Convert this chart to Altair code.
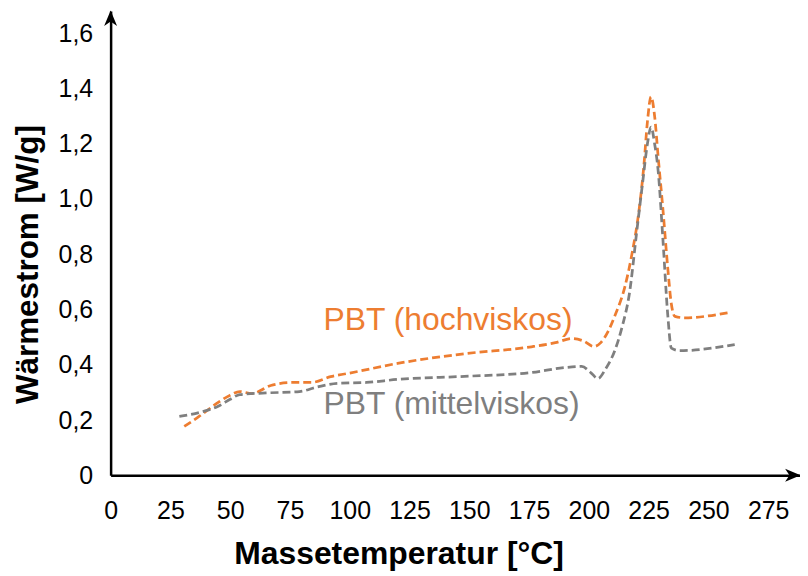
import altair as alt
import pandas as pd

# ---- data ----
hoch_x = [30.8, 37, 45, 50, 54, 59, 67, 76, 84, 92, 100, 120, 148, 176, 186, 193, 198, 202,
          205, 208, 211, 215, 218, 221, 223, 224.5, 226, 227.5, 229, 231, 233, 234.5, 236, 240, 258]
hoch_y = [0.177, 0.213, 0.264, 0.29, 0.303, 0.296, 0.325, 0.336, 0.336, 0.357, 0.37, 0.405, 0.44,
          0.465, 0.48, 0.495, 0.485, 0.466, 0.48, 0.52, 0.58, 0.68, 0.8, 0.96, 1.12, 1.28, 1.37,
          1.3, 1.15, 0.96, 0.75, 0.62, 0.575, 0.57, 0.588]

mittel_x = [28.75, 37, 45, 50, 54, 65, 79, 87, 95, 107, 120, 148, 176, 190, 197, 201, 203.75,
            207, 211, 214, 217, 220, 222.5, 224.5, 226, 227.5, 229, 231, 233, 234.5, 238, 261]
mittel_y = [0.213, 0.227, 0.25, 0.275, 0.292, 0.298, 0.303, 0.321, 0.333, 0.336, 0.347, 0.358,
            0.372, 0.39, 0.394, 0.37, 0.35, 0.385, 0.455, 0.54, 0.66, 0.88, 1.06, 1.2, 1.26,
            1.2, 1.1, 0.85, 0.58, 0.46, 0.451, 0.473]

series_names = ["PBT (hochviskos)", "PBT (mittelviskos)"]
series_colors = ["#ED7D31", "#7F7F7F"]
label_x = [89, 89]
label_y = [0.527, 0.222]

x_ticks = [0, 25, 50, 75, 100, 125, 150, 175, 200, 225, 250, 275]
y_ticks = [0, 0.2, 0.4, 0.6, 0.8, 1.0, 1.2, 1.4, 1.6]
x_max = 288.3
y_max = 1.68

FONT = "Liberation Sans"

df_h = pd.DataFrame({"x": hoch_x, "y": hoch_y, "s": series_names[0]})
df_m = pd.DataFrame({"x": mittel_x, "y": mittel_y, "s": series_names[1]})
df = pd.concat([df_h, df_m], ignore_index=True)

xs = alt.Scale(domain=[0, x_max], nice=False, zero=False)
ys = alt.Scale(domain=[0, y_max], nice=False, zero=False)
cs = alt.Scale(domain=series_names, range=series_colors)

xaxis = alt.Axis(values=x_ticks, grid=False, ticks=False, tickSize=0, domainColor="black",
                 domainWidth=2.5, labelFont=FONT, labelFontSize=25, labelColor="black",
                 labelPadding=23, labelFlush=False, labelOverlap=False,
                 title="Massetemperatur [°C]", titleFont=FONT, titleFontSize=32,
                 titleFontWeight="bold", titleColor="black", titleX=289, titleY=89,
                 titleBaseline="alphabetic", titleAlign="center")
yaxis = alt.Axis(values=y_ticks, grid=False, ticks=False, tickSize=0, domainColor="black",
                 domainWidth=2.5, labelFont=FONT, labelFontSize=25, labelColor="black",
                 labelPadding=18, labelFlush=False, labelOverlap=False,
                 labelExpr="datum.value == 0 ? '0' : replace(format(datum.value, '.1f'), '.', ',')",
                 title="Wärmestrom [W/g]", titleFont=FONT, titleFontSize=31.5,
                 titleFontWeight="bold", titleColor="black", titleX=-82, titleY=254,
                 titleAngle=-90, titleAlign="center", titleBaseline="middle")

lines = alt.Chart(df).mark_line(
    interpolate="monotone", strokeWidth=2.75, strokeDash=[8, 4]
).encode(
    x=alt.X("x:Q", scale=xs, axis=xaxis),
    y=alt.Y("y:Q", scale=ys, axis=yaxis),
    color=alt.Color("s:N", scale=cs, legend=None),
    detail="s:N",
)

lab_df = pd.DataFrame({"x": label_x, "y": label_y, "s": series_names})
labels = alt.Chart(lab_df).mark_text(
    font=FONT, fontSize=32, align="left", baseline="alphabetic"
).encode(
    x=alt.X("x:Q", scale=xs),
    y=alt.Y("y:Q", scale=ys),
    text="s:N",
    color=alt.Color("s:N", scale=cs, legend=None),
)

arrow_shape = "M0,-1 L0.75,0.8 L0,0.3 L-0.75,0.8 Z"
arr_up = alt.Chart(pd.DataFrame({"x": [0], "y": [y_max]})).mark_point(
    shape=arrow_shape, filled=True, color="black", opacity=1, size=300, yOffset=8
).encode(x=alt.X("x:Q", scale=xs), y=alt.Y("y:Q", scale=ys))
arr_right = alt.Chart(pd.DataFrame({"x": [x_max], "y": [0]})).mark_point(
    shape=arrow_shape, filled=True, color="black", opacity=1, size=300, angle=90, xOffset=-8
).encode(x=alt.X("x:Q", scale=xs), y=alt.Y("y:Q", scale=ys))

chart = alt.layer(lines, labels, arr_up, arr_right).properties(
    width=692, height=466,
    autosize=alt.AutoSizeParams(type="none"),
    padding={"left": 103, "top": 2, "right": 0, "bottom": 98},
    background="white",
).configure_view(stroke=None)

chart.save("out.html", embed_options={"renderer": "svg", "actions": False})
